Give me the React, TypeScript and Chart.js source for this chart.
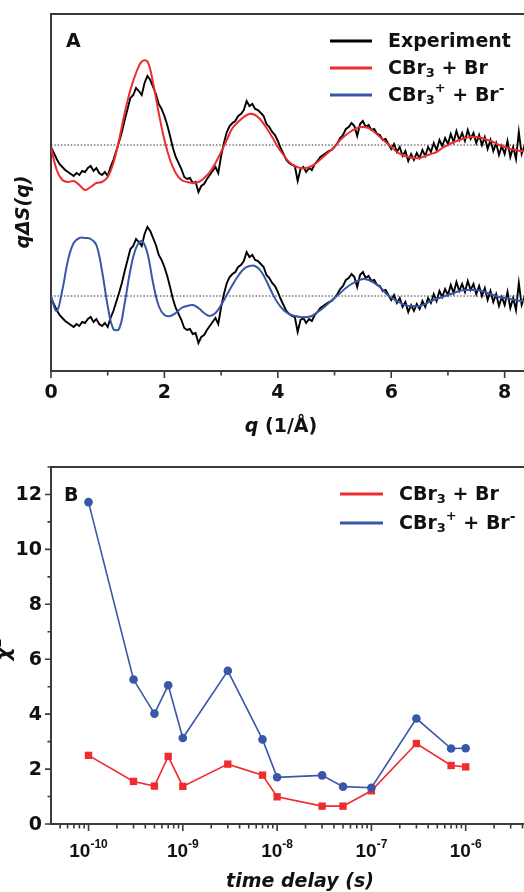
import React, { useEffect, useRef } from "react";
import { Chart, registerables } from "chart.js";

Chart.register(...registerables);

const FONT = '"DejaVu Sans", "Liberation Sans", sans-serif';
const TICK_FONT_B = '"Liberation Sans", Arial, sans-serif';
const AXIS_COLOR = "#3a3a3a";
const BLACK = "#000000";
const RED = "#ee2b2f";
const BLUE = "#3957a9";

// ---------------- Panel A data ----------------
const Q_STEP_EXP = 0.05;
// experiment qΔS(q), q = 0 … 8.4 step 0.05 (arb. units, baseline 0)
const EXPERIMENT = [
  -0.2, -0.8, -1.4, -1.9, -2.2, -2.5, -2.7, -2.9, -3.1, -2.8, -3.0, -2.6, -2.7, -2.3, -2.1, -2.6, -2.3, -2.8, -3.0, -2.7,
  -3.1, -2.2, -1.5, -0.6, 0.3, 1.3, 2.5, 3.6, 4.7, 5.0, 5.7, 5.4, 5.0, 6.2, 6.9, 6.5, 5.8, 5.1, 4.1, 3.6,
  2.9, 2.0, 0.9, -0.3, -1.2, -1.8, -2.4, -3.2, -3.4, -3.3, -3.8, -3.7, -4.7, -4.1, -3.9, -3.4, -3.0, -2.6, -2.2, -2.8,
  -1.1, 0.2, 1.3, 1.9, 2.2, 2.4, 2.9, 3.1, 3.5, 4.4, 3.9, 4.1, 3.6, 3.5, 3.2, 2.9, 2.1, 1.8, 1.3, 1.0,
  0.4, -0.3, -0.9, -1.5, -1.8, -2.0, -2.1, -3.6, -2.4, -2.2, -2.7, -2.3, -2.5, -1.9, -1.6, -1.2, -1.0, -0.8, -0.6, -0.5,
  -0.2, 0.2, 0.7, 1.0, 1.6, 1.8, 2.2, 1.9, 0.9, 2.1, 2.4, 1.8, 2.0, 1.5, 1.6, 1.1, 1.0, 0.5, 0.6, 0.1,
  -0.4, 0.1, -0.7, -0.2, -1.1, -0.6, -1.6, -0.9, -1.5, -0.8, -1.3, -0.5, -1.1, -0.2, -0.7, 0.2, -0.5, 0.5, -0.1, 0.7,
  0.1, 1.1, 0.3, 1.4, 0.5, 1.2, 0.4, 1.5, 0.6, 1.2, 0.2, 1.0, 0.0, 0.8, -0.4, 0.5, -0.6, 0.2, -1.0, -0.1,
  -0.9, 0.4, -1.2, -0.2, -1.4, 1.3, -0.9, -0.1, -1.1,
];

const Q_STEP_FIT = 0.1;
// CBr3 + Br fit, q = 0 … 8.4 step 0.1
const FIT_NEUTRAL = [
  -0.2, -2.5, -3.5, -3.7, -3.6, -4.0, -4.5, -4.2, -3.8, -3.7,
  -3.2, -1.8, 0.5, 3.2, 5.5, 7.2, 8.35, 8.35, 6.2, 3.2,
  0.5, -1.5, -2.8, -3.5, -3.7, -3.8, -3.7, -3.3, -2.7, -1.8,
  -0.7, 0.5, 1.7, 2.3, 2.8, 3.1, 3.0, 2.5, 1.7, 0.8,
  -0.2, -1.0, -1.7, -2.1, -2.3, -2.3, -2.1, -1.7, -1.2, -0.7,
  -0.2, 0.5, 1.0, 1.4, 1.7, 1.8, 1.7, 1.3, 0.8, 0.3,
  -0.2, -0.7, -1.0, -1.2, -1.3, -1.3, -1.1, -0.9, -0.7, -0.3,
  0.0, 0.3, 0.5, 0.7, 0.8, 0.8, 0.7, 0.5, 0.3, 0.0,
  -0.2, -0.4, -0.5, -0.6, -0.6,
];
// CBr3+ + Br- fit, q = 0 … 8.4 step 0.1 (relative to its own baseline)
const FIT_IONIC = [
  0.0, -1.5, 0.6, 3.6, 5.3, 5.8, 5.8, 5.7, 5.1, 2.5,
  -1.0, -3.3, -3.3, -0.7, 2.6, 4.8, 5.5, 4.3, 1.3, -1.0,
  -1.9, -2.0, -1.7, -1.2, -1.0, -0.9, -1.2, -1.7, -2.0, -1.7,
  -0.9, 0.1, 1.1, 2.0, 2.7, 3.0, 3.0, 2.5, 1.5, 0.3,
  -0.7, -1.4, -1.8, -2.0, -2.1, -2.1, -2.0, -1.6, -1.2, -0.7,
  -0.2, 0.3, 0.8, 1.2, 1.5, 1.7, 1.6, 1.3, 0.9, 0.3,
  -0.2, -0.5, -0.8, -1.0, -1.0, -1.0, -0.8, -0.5, -0.3, -0.1,
  0.1, 0.3, 0.5, 0.6, 0.6, 0.6, 0.5, 0.3, 0.1, -0.1,
  -0.2, -0.3, -0.4, -0.5, -0.5,
];
const BASELINE_OFFSET = 15.1; // vertical offset of the lower pair of curves
const Q_MAJOR_TICKS = [0, 2, 4, 6, 8];
const Q_MINOR_TICKS = [1, 3, 5, 7];

// ---------------- Panel B data ----------------
const TIME_DELAYS = [1e-10, 3e-10, 5e-10, 7e-10, 1e-9, 3e-9, 7e-9, 1e-8, 3e-8, 5e-8, 1e-7, 3e-7, 7e-7, 1e-6];
const CHI2_NEUTRAL = [2.5, 1.55, 1.38, 2.46, 1.37, 2.18, 1.78, 0.99, 0.65, 0.65, 1.21, 2.93, 2.13, 2.08];
const CHI2_IONIC = [11.72, 5.26, 4.02, 5.05, 3.13, 5.58, 3.08, 1.7, 1.77, 1.36, 1.32, 3.84, 2.75, 2.76];
const CHI2_MAJOR_TICKS = [0, 2, 4, 6, 8, 10, 12];
const CHI2_MINOR_TICKS = [1, 3, 5, 7, 9, 11, 13];
const TIME_DECADES = [-10, -9, -8, -7, -6];

// ---------------- helpers ----------------
type Seg = { t: string; s?: number; dy?: number; st?: string; f?: string };

function drawRich(
  ctx: CanvasRenderingContext2D,
  segs: Seg[],
  x: number,
  y: number,
  base: number,
  style: string,
  align: "left" | "center"
) {
  const fontOf = (g: Seg) => `${g.st ?? style} ${g.s ?? base}px ${g.f ?? FONT}`;
  const widths = segs.map((g) => {
    ctx.font = fontOf(g);
    return ctx.measureText(g.t).width;
  });
  const total = widths.reduce((a, b) => a + b, 0);
  let cx = align === "center" ? x - total / 2 : x;
  ctx.textAlign = "left";
  segs.forEach((g, i) => {
    ctx.font = fontOf(g);
    ctx.fillText(g.t, cx, y + (g.dy ?? 0));
    cx += widths[i];
  });
}

const LEGEND_NEUTRAL: Seg[] = [
  { t: "CBr" },
  { t: "3", s: 13, dy: 5 },
  { t: " + Br" },
];
const LEGEND_IONIC: Seg[] = [
  { t: "CBr" },
  { t: "3", s: 13, dy: 5 },
  { t: "+", s: 13, dy: -7 },
  { t: " + Br" },
  { t: "-", s: 14, dy: -7 },
];

function legendLine(ctx: CanvasRenderingContext2D, x1: number, x2: number, y: number, color: string, w: number) {
  ctx.strokeStyle = color;
  ctx.lineWidth = w;
  ctx.beginPath();
  ctx.moveTo(x1, y);
  ctx.lineTo(x2, y);
  ctx.stroke();
}

const panelAPlugin = {
  id: "panelA",
  beforeDatasetsDraw(chart: any) {
    const { ctx, chartArea: ca, scales } = chart;
    const x = scales.x;
    ctx.save();
    ctx.strokeStyle = AXIS_COLOR;
    ctx.lineWidth = 2;
    ctx.beginPath();
    ctx.moveTo(ca.right, ca.top);
    ctx.lineTo(ca.left, ca.top);
    ctx.lineTo(ca.left, ca.bottom);
    ctx.lineTo(ca.right, ca.bottom);
    ctx.stroke();
    ctx.lineWidth = 1.6;
    ctx.beginPath();
    Q_MAJOR_TICKS.forEach((v) => {
      const px = x.getPixelForValue(v);
      ctx.moveTo(px, ca.bottom);
      ctx.lineTo(px, ca.bottom + 7);
    });
    Q_MINOR_TICKS.forEach((v) => {
      const px = x.getPixelForValue(v);
      ctx.moveTo(px, ca.bottom);
      ctx.lineTo(px, ca.bottom + 4.5);
    });
    ctx.stroke();
    ctx.fillStyle = "#111";
    ctx.font = `bold 19px ${FONT}`;
    ctx.textAlign = "center";
    ctx.textBaseline = "middle";
    Q_MAJOR_TICKS.forEach((v) => {
      ctx.fillText(String(v), x.getPixelForValue(v), ca.bottom + 22);
    });
    ctx.restore();
  },
  afterDraw(chart: any) {
    const { ctx } = chart;
    ctx.save();
    ctx.fillStyle = "#111";
    ctx.textBaseline = "alphabetic";
    ctx.font = `bold 19px ${FONT}`;
    ctx.textAlign = "left";
    ctx.fillText("A", 66, 47);
    // x title
    ctx.textBaseline = "middle";
    drawRich(ctx, [{ t: "q", st: "italic bold" }, { t: " (1/Å)" }], 281, 427, 19, "bold", "center");
    // y title
    ctx.save();
    ctx.translate(24, 212);
    ctx.rotate(-Math.PI / 2);
    ctx.textAlign = "center";
    ctx.font = `italic bold 19px ${FONT}`;
    ctx.fillText("qΔS(q)", 0, 0);
    ctx.restore();
    // legend
    legendLine(ctx, 330, 372, 41, BLACK, 3);
    legendLine(ctx, 330, 372, 68, RED, 3);
    legendLine(ctx, 330, 372, 95, BLUE, 3);
    ctx.fillStyle = "#111";
    ctx.textBaseline = "middle";
    drawRich(ctx, [{ t: "Experiment" }], 388, 42, 19, "bold", "left");
    drawRich(ctx, LEGEND_NEUTRAL, 388, 69, 19, "bold", "left");
    drawRich(ctx, LEGEND_IONIC, 388, 96, 19, "bold", "left");
    ctx.restore();
  },
};

const panelBPlugin = {
  id: "panelB",
  beforeDatasetsDraw(chart: any) {
    const { ctx, chartArea: ca, scales } = chart;
    const x = scales.x;
    const y = scales.y;
    ctx.save();
    ctx.strokeStyle = AXIS_COLOR;
    ctx.lineWidth = 2;
    ctx.beginPath();
    ctx.moveTo(ca.right, ca.top);
    ctx.lineTo(ca.left, ca.top);
    ctx.lineTo(ca.left, ca.bottom);
    ctx.lineTo(ca.right, ca.bottom);
    ctx.stroke();
    ctx.lineWidth = 1.6;
    ctx.beginPath();
    const xmin = x.min;
    const xmax = x.max;
    for (let e = -11; e <= -5; e++) {
      for (let s = 1; s <= 9; s++) {
        const v = s * Math.pow(10, e);
        if (v <= xmin * 1.001 || v > xmax * 1.001) continue;
        const px = x.getPixelForValue(v);
        ctx.moveTo(px, ca.bottom);
        ctx.lineTo(px, ca.bottom + (s === 1 ? 7 : 4.5));
      }
    }
    CHI2_MAJOR_TICKS.forEach((v) => {
      const py = y.getPixelForValue(v);
      ctx.moveTo(ca.left, py);
      ctx.lineTo(ca.left - 6, py);
    });
    CHI2_MINOR_TICKS.forEach((v) => {
      const py = y.getPixelForValue(v);
      ctx.moveTo(ca.left, py);
      ctx.lineTo(ca.left - 3.5, py);
    });
    ctx.stroke();
    ctx.fillStyle = "#111";
    ctx.font = `bold 19px ${FONT}`;
    ctx.textAlign = "right";
    ctx.textBaseline = "middle";
    CHI2_MAJOR_TICKS.forEach((v) => {
      ctx.fillText(String(v), ca.left - 9, y.getPixelForValue(v) + 1);
    });
    ctx.textBaseline = "alphabetic";
    TIME_DECADES.forEach((e) => {
      const px = x.getPixelForValue(Math.pow(10, e));
      drawRich(
        ctx,
        [
          { t: "10", s: 19, f: TICK_FONT_B },
          { t: String(e), s: 12, dy: -9, f: TICK_FONT_B },
        ],
        px,
        ca.bottom + 33,
        19,
        "bold",
        "center"
      );
    });
    ctx.restore();
  },
  afterDraw(chart: any) {
    const { ctx, chartArea: ca } = chart;
    ctx.save();
    ctx.fillStyle = "#111";
    ctx.textBaseline = "alphabetic";
    ctx.font = `bold 19px ${FONT}`;
    ctx.textAlign = "left";
    ctx.fillText("B", 64, 55);
    ctx.textBaseline = "middle";
    drawRich(ctx, [{ t: "time delay (s)", st: "italic bold" }], 300, 436, 19, "bold", "center");
    ctx.save();
    ctx.translate(10, (ca.top + ca.bottom) / 2 + 4);
    ctx.rotate(-Math.PI / 2);
    ctx.textBaseline = "alphabetic";
    drawRich(ctx, [{ t: "χ", st: "italic bold" }, { t: "2", s: 13, dy: -9 }], 0, 0, 20, "bold", "center");
    ctx.restore();
    legendLine(ctx, 340, 383, 48, RED, 3);
    legendLine(ctx, 340, 383, 77, BLUE, 3);
    ctx.fillStyle = "#111";
    ctx.textBaseline = "middle";
    drawRich(ctx, LEGEND_NEUTRAL, 399, 49, 19, "bold", "left");
    drawRich(ctx, LEGEND_IONIC, 399, 78, 19, "bold", "left");
    ctx.restore();
  },
};

function seriesFromStep(values: number[], step: number, shift = 0) {
  return values.map((v, i) => ({ x: +(i * step).toFixed(3), y: v + shift }));
}

function configA(): any {
  const lineBase = { pointRadius: 0, fill: false, spanGaps: true };
  return {
    type: "line",
    data: {
      datasets: [
        { ...lineBase, label: "CBr3+ + Br- fit", data: seriesFromStep(FIT_IONIC, Q_STEP_FIT, -BASELINE_OFFSET), borderColor: BLUE, borderWidth: 2, tension: 0.4 },
        { ...lineBase, label: "CBr3 + Br fit", data: seriesFromStep(FIT_NEUTRAL, Q_STEP_FIT), borderColor: RED, borderWidth: 2, tension: 0.4 },
        { ...lineBase, label: "Experiment (lower)", data: seriesFromStep(EXPERIMENT, Q_STEP_EXP, -BASELINE_OFFSET), borderColor: BLACK, borderWidth: 1.9, tension: 0 },
        { ...lineBase, label: "Experiment", data: seriesFromStep(EXPERIMENT, Q_STEP_EXP), borderColor: BLACK, borderWidth: 1.9, tension: 0 },
        { ...lineBase, label: "zero", data: [{ x: 0, y: 0 }, { x: 8.5, y: 0 }], borderColor: "#333", borderWidth: 1, borderDash: [1.5, 1.8] },
        { ...lineBase, label: "zero lower", data: [{ x: 0, y: -BASELINE_OFFSET }, { x: 8.5, y: -BASELINE_OFFSET }], borderColor: "#333", borderWidth: 1, borderDash: [1.5, 1.8] },
      ],
    },
    options: {
      animation: false,
      responsive: false,
      events: [],
      layout: { padding: { top: 14, left: 0, right: 27, bottom: 0 } },
      plugins: { legend: { display: false }, tooltip: { enabled: false } },
      scales: {
        x: {
          type: "linear", min: 0, max: 8.5,
          grid: { display: false }, border: { display: false }, ticks: { display: false },
          afterFit: (s: any) => { s.height = 75; },
        },
        y: {
          type: "linear", min: -22.6, max: 13.1,
          grid: { display: false }, border: { display: false }, ticks: { display: false },
          afterFit: (s: any) => { s.width = 51; },
        },
      },
    },
    plugins: [panelAPlugin],
  };
}

function configB(): any {
  return {
    type: "line",
    data: {
      datasets: [
        {
          label: "CBr3+ + Br-",
          data: TIME_DELAYS.map((t, i) => ({ x: t, y: CHI2_IONIC[i] })),
          borderColor: BLUE, backgroundColor: BLUE, borderWidth: 1.6,
          pointStyle: "circle", pointRadius: 4.3, pointBorderWidth: 0, tension: 0,
        },
        {
          label: "CBr3 + Br",
          data: TIME_DELAYS.map((t, i) => ({ x: t, y: CHI2_NEUTRAL[i] })),
          borderColor: RED, backgroundColor: RED, borderWidth: 1.6,
          pointStyle: "rect", pointRadius: 5.2, pointBorderWidth: 0, tension: 0,
        },
      ],
    },
    options: {
      animation: false,
      responsive: false,
      events: [],
      layout: { padding: { top: 21, left: 0, right: 10, bottom: 0 } },
      plugins: { legend: { display: false }, tooltip: { enabled: false } },
      scales: {
        x: {
          type: "logarithmic", min: 4e-11, max: 1e-5,
          grid: { display: false }, border: { display: false }, ticks: { display: false },
          afterFit: (s: any) => { s.height = 68; },
        },
        y: {
          type: "linear", min: 0, max: 13,
          grid: { display: false }, border: { display: false }, ticks: { display: false },
          afterFit: (s: any) => { s.width = 51; },
        },
      },
    },
    plugins: [panelBPlugin],
  };
}

export default function App() {
  const refA = useRef<HTMLCanvasElement>(null);
  const refB = useRef<HTMLCanvasElement>(null);
  useEffect(() => {
    const a = new Chart(refA.current as HTMLCanvasElement, configA());
    const b = new Chart(refB.current as HTMLCanvasElement, configB());
    return () => {
      a.destroy();
      b.destroy();
    };
  }, []);
  return (
    <div style={{ position: "fixed", left: 0, top: 0, width: 524, height: 892, overflow: "hidden", background: "#fff" }}>
      <canvas ref={refA} width={560} height={446} style={{ position: "absolute", left: 0, top: 0, width: 560, height: 446 }} />
      <canvas ref={refB} width={570} height={446} style={{ position: "absolute", left: 0, top: 446, width: 570, height: 446 }} />
    </div>
  );
}
